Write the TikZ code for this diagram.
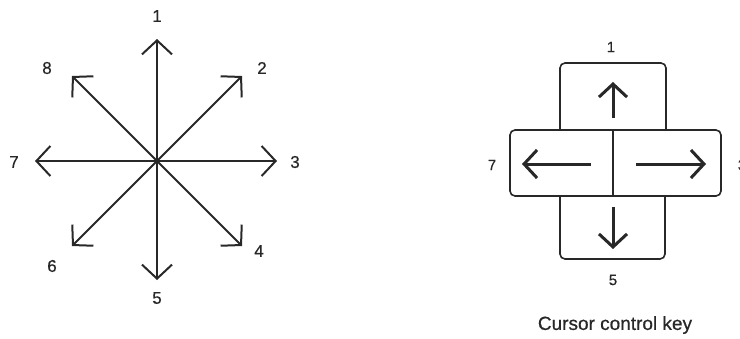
\documentclass[tikz,border=0pt]{standalone}
\usepackage{fontspec}
\setmainfont{Liberation Sans}[FakeBold=0.6]
\usetikzlibrary{arrows.meta}
\definecolor{ink}{RGB}{40,40,40}
\tikzset{
  ray/.style={draw=ink, line width=2pt, -{Straight Barb[length=14pt,width=30pt]}},
  keyarrow/.style={draw=ink, line width=3pt, -{Straight Barb[length=13pt,width=28pt]}},
  keycap/.style={draw=ink, line width=1.6pt, rounded corners=5pt, fill=white},
  num/.style={text=ink, font=\fontsize{17}{17}\selectfont, inner sep=0pt},
  knum/.style={text=ink, font=\fontsize{15}{15}\selectfont, inner sep=0pt},
  caption/.style={text=ink, font=\fontsize{19}{19}\selectfont, inner sep=0pt}
}
\begin{document}
\begin{tikzpicture}[x=1pt, y=-1pt]
\useasboundingbox (0,0) rectangle (740,338);

% eight-direction star
\coordinate (c) at (157,161);
\coordinate (t1) at (157,39);
\coordinate (t2) at (242,76);
\coordinate (t3) at (277,161);
\coordinate (t4) at (242,246);
\coordinate (t5) at (157,280);
\coordinate (t6) at (72,246);
\coordinate (t7) at (35,161);
\coordinate (t8) at (72,76);
\foreach \i in {1,...,8} { \draw[ray] (c) -- (t\i); }
\fill[ink] (c) circle (2.5pt);

\node[num] (n1) at (157,16) {1};
\node[num] (n2) at (262,68) {2};
\node[num] (n3) at (295,162) {3};
\node[num] (n4) at (259,251) {4};
\node[num] (n5) at (157,298) {5};
\node[num] (n6) at (52,266) {6};
\node[num] (n7) at (14,162) {7};
\node[num] (n8) at (47,68) {8};

% cursor control key
\draw[keycap] (560,63) rectangle (666,145);
\draw[keycap] (560,180) rectangle (665,259);
\draw[keycap] (510,130) rectangle (721,196);
\draw[ink, line width=1.4pt] (613,130) -- (613,196);

\coordinate (ua) at (613,118);
\coordinate (ub) at (613,82);
\coordinate (la) at (591,164);
\coordinate (lb) at (522,164);
\coordinate (ra) at (636,164);
\coordinate (rb) at (706,164);
\coordinate (da) at (613,207);
\coordinate (db) at (613,249);
\draw[keyarrow] (ua) -- (ub);
\draw[keyarrow] (la) -- (lb);
\draw[keyarrow] (ra) -- (rb);
\draw[keyarrow] (da) -- (db);

\node[knum] (k1) at (611,47) {1};
\node[knum] (k7) at (492,165) {7};
\node[knum] (k3) at (742,165) {3};
\node[knum] (k5) at (613,280) {5};
\node[caption] (cap) at (615,325) {Cursor control key};
\end{tikzpicture}
\end{document}
